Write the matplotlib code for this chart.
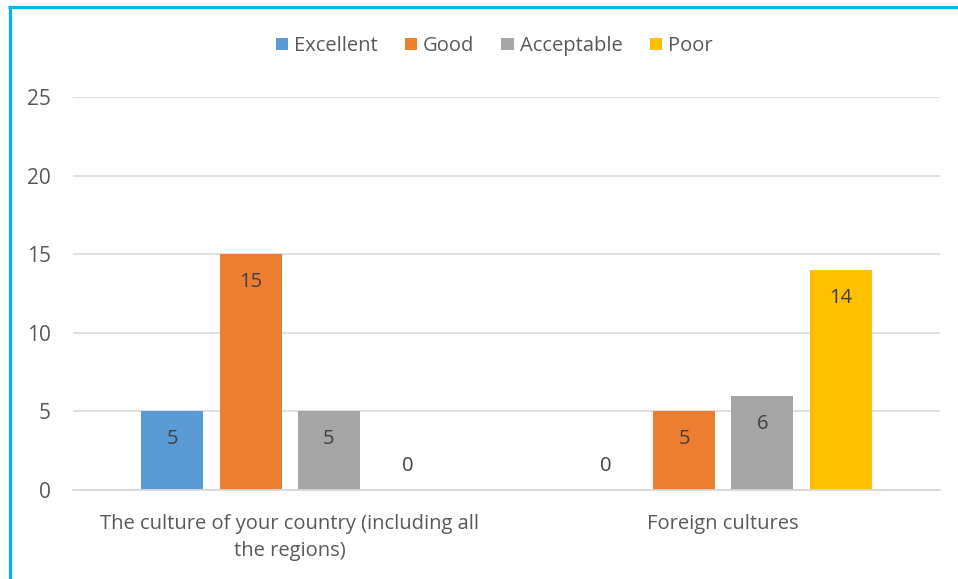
import matplotlib
matplotlib.use("Agg")
import matplotlib.pyplot as plt
import numpy as np
from matplotlib.lines import Line2D
from matplotlib.patches import Patch

categories = ["The culture of your country (including all\nthe regions)", "Foreign cultures"]
series_names = ["Excellent", "Good", "Acceptable", "Poor"]
excellent = [5, 0]
good = [15, 5]
acceptable = [5, 6]
poor = [0, 14]
y_ticks = [0, 5, 10, 15, 20, 25]

colors = ["#5b9bd5", "#ed7d31", "#a5a5a5", "#ffc000"]
text_color = "#595959"
grid_color = "#d9d9d9"
border_color = "#00b4f0"

plt.rcParams["font.family"] = ["Open Sans", "DejaVu Sans"]

fig = plt.figure(figsize=(9.58, 5.79), dpi=100)
ax = fig.add_axes([73 / 958, 89 / 579, 867 / 958, 393 / 579])

x = np.arange(len(categories))
step = 0.181
width = 0.143
all_series = [excellent, good, acceptable, poor]
for i, (name, vals, col) in enumerate(zip(series_names, all_series, colors)):
    pos = x + (i - 1.5) * step
    bars = ax.bar(pos, vals, width=width, color=col, label=name, zorder=3)
    for b, v in zip(bars, vals):
        cx = b.get_x() + b.get_width() / 2
        dy = -28 if v > 0 else 24
        ax.annotate(str(v), (cx, v), xytext=(0, dy * 0.72), textcoords="offset points",
                    ha="center", va="center", fontsize=14.5, color="#404040", zorder=4)

ax.set_xlim(-0.5, 1.5)
ax.set_ylim(0, 25)
ax.set_yticks(y_ticks)
ax.set_xticks(x)
ax.set_xticklabels(categories, fontsize=14.5, color=text_color, linespacing=1.5)
ax.tick_params(axis="y", labelsize=15, labelcolor=text_color, length=0, pad=16)
ax.tick_params(axis="x", length=0, pad=17)
ax.grid(axis="y", color=grid_color, linewidth=1.1, zorder=0)
ax.set_axisbelow(True)
for s in ["top", "right", "left"]:
    ax.spines[s].set_visible(False)
ax.spines["bottom"].set_color(grid_color)
ax.spines["bottom"].set_linewidth(1.3)
ax.spines["bottom"].set_zorder(3)

handles = [Patch(facecolor=c, edgecolor="none") for c in colors]
fig.legend(handles, series_names, loc="center", bbox_to_anchor=(494 / 958, 1 - 46 / 579),
           ncol=4, frameon=False, fontsize=14.5, labelcolor=text_color,
           handlelength=0.6, handleheight=0.6, handletextpad=0.3, columnspacing=1.35)

# frame lines along the left and top edges
fig.add_artist(Line2D([9.5 / 958, 9.5 / 958], [0, 1 - 6.5 / 579], color=border_color,
                      linewidth=2.3, transform=fig.transFigure, solid_capstyle="butt"))
fig.add_artist(Line2D([8 / 958, 1], [1 - 6.5 / 579, 1 - 6.5 / 579], color=border_color,
                      linewidth=2.3, transform=fig.transFigure, solid_capstyle="butt"))

fig.savefig("out.png", dpi=100)
